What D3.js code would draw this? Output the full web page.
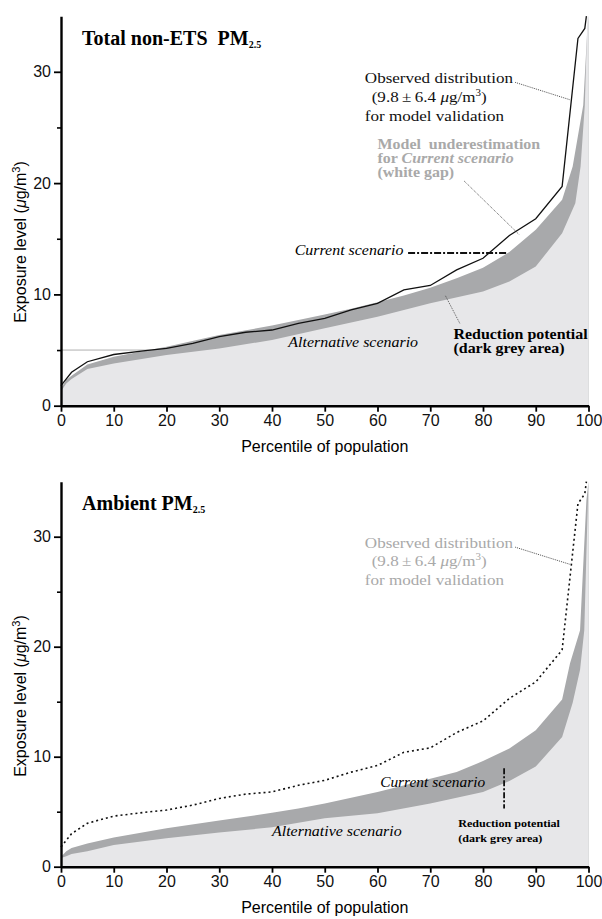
<!DOCTYPE html>
<html>
<head>
<meta charset="utf-8">
<script src="https://cdn.jsdelivr.net/npm/d3@7"></script>
<style>
  body { margin: 0; background: #fff; }
  svg text { white-space: pre; }
</style>
</head>
<body>
<svg id="chart" width="602" height="919"></svg>
<script>
// observed distribution (same in both panels)
const obsPct = [0, 2, 5, 10, 16, 20, 25, 30, 35, 40, 45, 50, 55, 60, 65, 70, 75, 80, 85, 90, 95, 98, 99.3, 99.6];
const obsVal = [1.8, 3.0, 3.95, 4.6, 4.95, 5.15, 5.6, 6.2, 6.6, 6.8, 7.4, 7.85, 8.6, 9.2, 10.4, 10.8, 12.2, 13.25, 15.3, 16.8, 19.7, 33.0, 33.9, 35];

// total non-ETS PM2.5
const totCurPct = [0, 1, 2, 5, 10, 20, 30, 40, 45, 50, 55, 60, 65, 70, 75, 80, 85, 90, 95, 97, 99, 99.8, 100];
const totCurVal = [1.6, 2.3, 2.7, 3.7, 4.4, 5.3, 6.35, 7.2, 7.7, 8.2, 8.7, 9.3, 9.9, 10.6, 11.45, 12.4, 13.8, 15.8, 18.5, 21.5, 27, 34, 35];
const totAltPct = [0, 1, 2, 5, 10, 20, 30, 40, 50, 60, 70, 80, 85, 90, 95, 97.5, 98.5, 99.3, 99.8, 100];
const totAltVal = [1.3, 2.0, 2.4, 3.3, 3.8, 4.55, 5.15, 5.9, 6.95, 8.0, 9.2, 10.25, 11.15, 12.5, 15.5, 18.2, 21.5, 27, 35, 35];

// ambient PM2.5
const ambCurPct = [0, 1, 2, 5, 10, 20, 30, 40, 45, 50, 60, 70, 75, 80, 85, 90, 95, 96.5, 98.4, 99.6, 100];
const ambCurVal = [0.9, 1.4, 1.7, 2.1, 2.65, 3.5, 4.2, 4.9, 5.3, 5.75, 6.8, 8.0, 8.6, 9.6, 10.75, 12.4, 15.2, 18.5, 21.5, 33.3, 35];
const ambAltPct = [0, 1, 2, 5, 10, 20, 30, 40, 50, 60, 70, 80, 85, 90, 95, 97, 98.4, 99.2, 99.6, 100];
const ambAltVal = [0.8, 0.95, 1.15, 1.4, 1.97, 2.58, 3.1, 3.58, 4.4, 4.85, 5.75, 6.8, 7.8, 9.1, 11.8, 14.9, 17.9, 21.5, 28.5, 35];

const xTicks = [0, 10, 20, 30, 40, 50, 60, 70, 80, 90, 100];
const yMajor = [0, 10, 20, 30];
const yMinor = [5, 15, 25];

const lightGrey = "#e7e7e9";
const darkGrey = "#a8a9ab";
const labelGrey = "#a9a9a9";
const serif = "'Liberation Serif', 'Times New Roman', serif";
const sans = "'Liberation Sans', Arial, sans-serif";

const svg = d3.select("#chart");
const x = d3.scaleLinear().domain([0, 100]).range([61, 588.5]);

function zip(ps, vs) { return ps.map((p, i) => [p, vs[i]]); }

// serif note text, slightly wider than tall like the original typesetting
function note(g, px, py, size) {
    return g.append("g").attr("transform", `translate(${px},${py}) scale(1.1,1)`)
        .append("text")
        .attr("font-family", serif).attr("font-size", size);
}

function drawPanel(cfg) {
    const y = d3.scaleLinear().domain([0, 35]).range([cfg.y0, cfg.y0 - 35 * cfg.k]);
    const g = svg.append("g");

    // dark band = everything under current scenario, then light grey under alternative
    const area = d3.area().x(d => x(d[0])).y0(y(0)).y1(d => y(d[1]));
    g.append("path").datum(zip(cfg.curPct, cfg.curVal))
        .attr("d", area).attr("fill", darkGrey);
    g.append("path").datum(zip(cfg.altPct, cfg.altVal))
        .attr("d", area).attr("fill", lightGrey);

    if (cfg.refLine) {
        g.append("line")
            .attr("x1", x(0)).attr("x2", x(17))
            .attr("y1", y(5)).attr("y2", y(5))
            .attr("stroke", "#9a9a9a").attr("stroke-width", 0.8);
    }

    const line = d3.line().x(d => x(d[0])).y(d => y(d[1]));
    g.append("path").datum(zip(obsPct, obsVal))
        .attr("d", line)
        .attr("fill", "none")
        .attr("stroke", "#111")
        .attr("stroke-width", cfg.dotted ? 1.6 : 1.3)
        .attr("stroke-dasharray", cfg.dotted ? "2,3" : null);

    // axes
    const yAxis = g.append("g").attr("transform", `translate(${x(0)},0)`)
        .call(d3.axisLeft(y).tickValues(yMajor).tickSize(7).tickPadding(3).tickSizeOuter(0));
    g.append("g").attr("transform", `translate(${x(0)},0)`)
        .call(d3.axisLeft(y).tickValues(yMinor).tickSize(4).tickFormat("").tickSizeOuter(0))
        .call(a => a.select(".domain").remove())
        .selectAll("line").attr("stroke-width", 1.6);
    const xAxis = g.append("g").attr("transform", `translate(0,${y(0)})`)
        .call(d3.axisBottom(x).tickValues(xTicks).tickSize(6).tickPadding(3).tickSizeOuter(0));
    [yAxis, xAxis].forEach(a => {
        a.select(".domain").attr("stroke-width", 2.4);
        a.selectAll(".tick line").attr("stroke-width", 1.8);
        a.selectAll("text").attr("font-family", sans).attr("font-size", 16).attr("fill", "#111");
    });

    g.append("text")
        .attr("x", (x(0) + x(100)) / 2).attr("y", cfg.xTitleY)
        .attr("text-anchor", "middle")
        .attr("font-family", sans).attr("font-size", 16)
        .text("Percentile of population");

    const yt = g.append("text")
        .attr("transform", `translate(26,${cfg.yTitleY}) rotate(-90)`)
        .attr("text-anchor", "middle")
        .attr("font-family", sans).attr("font-size", 16);
    yt.append("tspan").text("Exposure level (");
    yt.append("tspan").attr("font-style", "italic").text("\u03bc");
    yt.append("tspan").text("g/m");
    yt.append("tspan").attr("dy", -6).attr("font-size", 11).text("3");
    yt.append("tspan").attr("dy", 6).text(")");

    // title
    const t = g.append("text")
        .attr("x", x(4)).attr("y", y(32.4))
        .attr("font-family", serif).attr("font-weight", "bold").attr("font-size", 20);
    t.append("tspan").text(cfg.title);
    t.append("tspan").attr("dy", 3).attr("font-size", 10).text("2.5");

    // observed distribution note
    const obsCol = cfg.dotted ? labelGrey : "#111";
    note(g, x(57.6), y(29.0), 15.5).attr("fill", obsCol).text("Observed distribution");
    const n2 = note(g, x(58.9), y(27.3), 15.5).attr("fill", obsCol);
    n2.append("tspan").text("(9.8\u2009\u00b1\u20096.4 ");
    n2.append("tspan").attr("font-style", "italic").text("\u03bc");
    n2.append("tspan").text("g/m");
    n2.append("tspan").attr("dy", -6).attr("font-size", 10).text("3");
    n2.append("tspan").attr("dy", 6).text(")");
    note(g, x(57.6), y(25.6), 15.5).attr("fill", obsCol).text("for model validation");
    g.append("line")
        .attr("x1", x(86.1)).attr("y1", y(29.05))
        .attr("x2", x(96.4)).attr("y2", y(27.5))
        .attr("stroke", "#222").attr("stroke-width", 0.8).attr("stroke-dasharray", "1,1");

    cfg.notes(g, y);
}

drawPanel({
    title: "Total non-ETS  PM",
    y0: 405.7, k: 11.13,
    curPct: totCurPct, curVal: totCurVal,
    altPct: totAltPct, altVal: totAltVal,
    dotted: false, refLine: true,
    xTitleY: 452, yTitleY: 242,
    notes: function (g, y) {
        note(g, x(60), y(23.1), 14.5).attr("font-weight", "bold").attr("fill", labelGrey)
            .text("Model  underestimation");
        const m2 = note(g, x(60), y(21.85), 14.5).attr("font-weight", "bold").attr("fill", labelGrey);
        m2.append("tspan").text("for ");
        m2.append("tspan").attr("font-style", "italic").text("Current scenario");
        note(g, x(60), y(20.55), 14.5).attr("font-weight", "bold").attr("fill", labelGrey)
            .text("(white gap)");
        g.append("line")
            .attr("x1", x(76.4)).attr("y1", y(20.2))
            .attr("x2", x(86.8)).attr("y2", y(15.4))
            .attr("stroke", "#333").attr("stroke-width", 0.8).attr("stroke-dasharray", "1,1");

        note(g, x(44.3), y(13.5), 14.5).attr("font-style", "italic").text("Current scenario");
        g.append("line")
            .attr("x1", x(65.8)).attr("y1", y(13.72))
            .attr("x2", x(84.5)).attr("y2", y(13.72))
            .attr("stroke", "#111").attr("stroke-width", 1.8).attr("stroke-dasharray", "7,2,2,2");

        note(g, x(43.1), y(5.3), 14.5).attr("font-style", "italic").text("Alternative scenario");

        note(g, x(74.4), y(5.97), 14.5).attr("font-weight", "bold").text("Reduction potential");
        note(g, x(74.4), y(4.7), 14.5).attr("font-weight", "bold").text("(dark grey area)");
        g.append("line")
            .attr("x1", x(75.6)).attr("y1", y(7.4))
            .attr("x2", x(72.8)).attr("y2", y(9.95))
            .attr("stroke", "#333").attr("stroke-width", 0.8).attr("stroke-dasharray", "1,1");
    }
});

drawPanel({
    title: "Ambient PM",
    y0: 866.7, k: 11.0,
    curPct: ambCurPct, curVal: ambCurVal,
    altPct: ambAltPct, altVal: ambAltVal,
    dotted: true, refLine: false,
    xTitleY: 913, yTitleY: 696,
    notes: function (g, y) {
        note(g, x(60.5), y(7.27), 14).attr("font-style", "italic").text("Current scenario");
        g.append("line")
            .attr("x1", x(84)).attr("y1", y(8.95))
            .attr("x2", x(84)).attr("y2", y(5.3))
            .attr("stroke", "#111").attr("stroke-width", 1.8).attr("stroke-dasharray", "6,2,2,2");
        note(g, x(40), y(2.79), 14.5).attr("font-style", "italic").text("Alternative scenario");
        note(g, x(75.3), y(3.64), 11).attr("font-weight", "bold").text("Reduction potential");
        note(g, x(75.3), y(2.27), 11).attr("font-weight", "bold").text("(dark grey area)");
    }
});
</script>
</body>
</html>
